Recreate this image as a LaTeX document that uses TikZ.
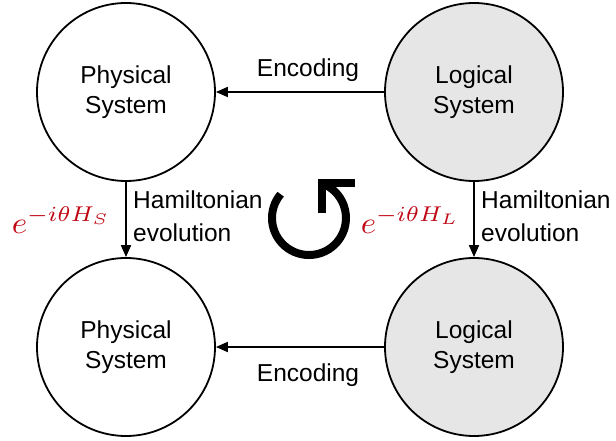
\documentclass[tikz,border=0pt]{standalone}
\usepackage{fontspec}
\setmainfont{Liberation Sans}
\usetikzlibrary{arrows.meta,calc}
\definecolor{lsfill}{RGB}{230,230,230}
\definecolor{mathred}{RGB}{192,8,20}
\begin{document}
\begin{tikzpicture}[x=1pt,y=1pt,
  sysnode/.style={circle,draw,line width=1.8pt,minimum size=178pt,inner sep=0pt,align=center,
    font=\fontsize{24.5}{30}\selectfont},
  physnode/.style={sysnode,fill=white},
  lognode/.style={sysnode,fill=lsfill},
  arr/.style={line width=1.8pt,-{Triangle[length=12pt,width=10pt]}},
  lbl/.style={font=\fontsize{24.5}{33}\selectfont,inner sep=0pt},
  lblleft/.style={lbl,align=left,anchor=west},
  mathlbl/.style={text=mathred,inner sep=0pt,anchor=east},
  cyc/.style={line width=8pt,line cap=butt}]
\useasboundingbox (0,0) rectangle (616,440);
\node[physnode] (PS1) at (126,348) {Physical\\System};
\node[lognode]  (LS1) at (474,348) {Logical\\System};
\node[physnode] (PS2) at (126,93) {Physical\\System};
\node[lognode]  (LS2) at (474,93) {Logical\\System};
\draw[arr] (LS1) -- (PS1);
\draw[arr] (LS2) -- (PS2);
\draw[arr] (PS1) -- (PS2);
\draw[arr] (LS1) -- (LS2);
\node[lbl] (enc1) at (308,370) {Encoding};
\node[lbl] (enc2) at (308,65) {Encoding};
\node[lblleft] (ham1) at (133,223.5) {Hamiltonian\\evolution};
\node[lblleft] (ham2) at (481,223.5) {Hamiltonian\\evolution};
\node[mathlbl] (ms) at (111,220) {\resizebox{99pt}{26pt}{$e^{-i\theta H_S}$}};
\node[mathlbl] (ml) at (460,220) {\resizebox{99pt}{26pt}{$e^{-i\theta H_L}$}};
% circular arrow
\coordinate (cc) at (309,222);
\draw[cyc] (cc) ++(140:37) arc[start angle=140,end angle=430,radius=37];
\draw[cyc,miter limit=10] (321.7,227) -- (321.7,256.8) -- (355,256.8);
\end{tikzpicture}
\end{document}
